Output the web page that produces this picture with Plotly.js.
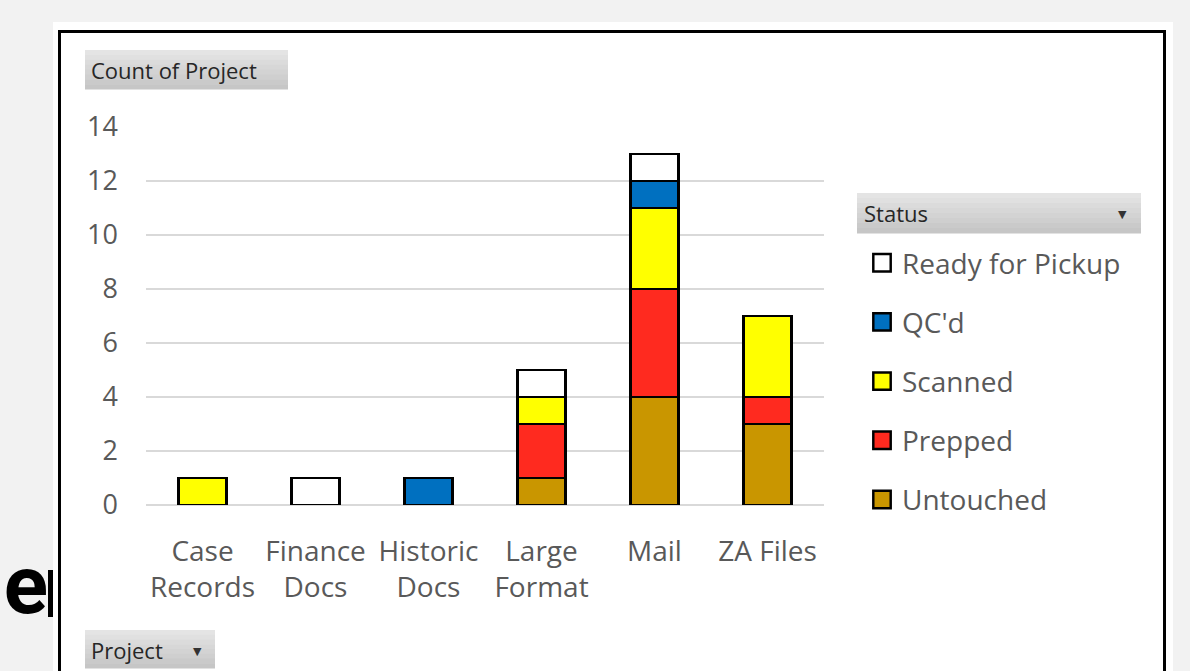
<!DOCTYPE html>
<html>
<head>
<meta charset="utf-8">
<script src="https://cdn.plot.ly/plotly-3.0.1.min.js"></script>
<style>html,body{margin:0;padding:0;background:#f2f2f2;}#chart{width:1190px;height:671px;}</style>
</head>
<body>
<div id="chart"></div>
<script>
// ---- data ----
var categories = ["Case Records", "Finance Docs", "Historic Docs", "Large Format", "Mail", "ZA Files"];
var tickLabels = ["Case<br>Records", "Finance<br>Docs", "Historic<br>Docs", "Large<br>Format", "Mail", "ZA Files"];
var untouched = [0, 0, 0, 1, 4, 3];
var prepped   = [0, 0, 0, 2, 4, 1];
var scanned   = [1, 0, 0, 1, 3, 3];
var qcd       = [0, 0, 1, 0, 1, 0];
var ready     = [0, 1, 0, 1, 1, 0];
var seriesNames = ["Untouched", "Prepped", "Scanned", "QC'd", "Ready for Pickup"];
var seriesColors = ["#c99600", "#ff2a1f", "#ffff00", "#0070c0", "#ffffff"];
var seriesValues = [untouched, prepped, scanned, qcd, ready];
var yTicks = [0, 2, 4, 6, 8, 10, 12, 14];

// ---- layout helpers (pixel -> paper) ----
var L = 146, R = 824, T = 127, B = 505;
function px(x){ return (x - L) / (R - L); }
function py(y){ return (B - y) / (B - T); }

var traces = seriesNames.map(function(n, i){
  return {
    type: "bar", name: n, x: categories,
    y: seriesValues[i].map(function(v){ return v === 0 ? null : v; }),
    marker: {color: seriesColors[i], line: {color: "#000000", width: 2.5}},
    legendgroup: n, legendrank: 10 - i, hoverinfo: "x+y+name"
  };
});

var shapes = [];
// white panel
shapes.push({type:"rect", xref:"paper", yref:"paper", layer:"below",
  x0:px(53), x1:px(1173), y0:py(700), y1:py(22), fillcolor:"#ffffff", line:{width:0}});
// black border
shapes.push({type:"rect", xref:"paper", yref:"paper", layer:"above",
  x0:px(59.5), x1:px(1164.5), y0:py(700), y1:py(31.5), fillcolor:"rgba(0,0,0,0)", line:{color:"#000000", width:3}});
// stem of the cut-off background letter
shapes.push({type:"rect", xref:"paper", yref:"paper", layer:"below",
  x0:px(48), x1:px(53), y0:py(617), y1:py(570), fillcolor:"#000000", line:{width:0}});

function gradBox(x0, x1, y0, y1){
  var n = 8, top = [228,228,228], bot = [198,198,198];
  for (var k = 0; k < n; k++){
    var t = k/(n-1);
    var c = top.map(function(v, j){ return Math.round(v + (bot[j]-v)*t); });
    var ya = y0 + (y1-y0)*k/n, yb = y0 + (y1-y0)*(k+1)/n;
    shapes.push({type:"rect", xref:"paper", yref:"paper", layer:"below",
      x0:px(x0), x1:px(x1), y0:py(yb+0.5), y1:py(ya),
      fillcolor:"rgb("+c.join(",")+")", line:{width:0}});
  }
}
gradBox(85, 288, 50, 89);
gradBox(857, 1141, 193, 233);
gradBox(85, 215, 630, 668);

var btnFont = {family:"Open Sans, sans-serif", size:22, color:"#262626"};
var annotations = [
  {xref:"paper", yref:"paper", x:px(89), y:py(70), xanchor:"left", yanchor:"middle", text:"Count of Project", showarrow:false, font:btnFont},
  {xref:"paper", yref:"paper", x:px(862), y:py(213), xanchor:"left", yanchor:"middle", text:"Status", showarrow:false, font:btnFont},
  {xref:"paper", yref:"paper", x:px(1122), y:py(214), xanchor:"center", yanchor:"middle", text:"▼", showarrow:false, font:{family:"DejaVu Sans", size:11, color:"#333333"}},
  {xref:"paper", yref:"paper", x:px(89), y:py(650), xanchor:"left", yanchor:"middle", text:"Project", showarrow:false, font:btnFont},
  {xref:"paper", yref:"paper", x:px(197), y:py(651), xanchor:"center", yanchor:"middle", text:"▼", showarrow:false, font:{family:"DejaVu Sans", size:11, color:"#333333"}},
  {xref:"paper", yref:"paper", x:px(50), y:py(585), xanchor:"right", yanchor:"middle", text:"ge", showarrow:false,
   font:{family:"Roboto, sans-serif", size:82, weight:700, color:"#000000"}}
];

var layout = {
  width:1190, height:671,
  paper_bgcolor:"#f2f2f2", plot_bgcolor:"rgba(0,0,0,0)",
  margin:{l:L, r:1190-R, t:T, b:671-B, pad:0},
  barmode:"stack", bargap:0.575,
  font:{family:"Open Sans, sans-serif", color:"#595959"},
  xaxis:{type:"category", categoryarray:categories, tickvals:categories, ticktext:tickLabels,
    showgrid:false, showline:false, ticks:"", zeroline:false,
    tickfont:{size:28, color:"#595959"}, ticklabelstandoff:27, fixedrange:true},
  yaxis:{range:[0,14], tickvals:yTicks, showgrid:true, gridcolor:"#d9d9d9", gridwidth:2,
    zeroline:true, zerolinecolor:"#d9d9d9", zerolinewidth:2, showline:false, ticks:"",
    tickfont:{size:27, color:"#595959"}, ticklabelstandoff:27, fixedrange:true},
  showlegend:true,
  legend:{x:px(862), xanchor:"left", y:py(238), yanchor:"top", traceorder:"grouped",
    tracegroupgap:19.8, bgcolor:"rgba(0,0,0,0)", font:{size:28, color:"#595959"}, itemclick:false, itemdoubleclick:false},
  shapes:shapes, annotations:annotations
};

Plotly.newPlot("chart", traces, layout, {displayModeBar:false, staticPlot:true}).then(function(gd){
  var pts = gd.querySelectorAll(".legend .legendpoints path");
  pts.forEach(function(p){
    var t = p.getAttribute("transform") || "";
    p.setAttribute("transform", t + " scale(1.45)");
    p.style.strokeWidth = "1.7px";
  });
});
</script>
</body>
</html>
